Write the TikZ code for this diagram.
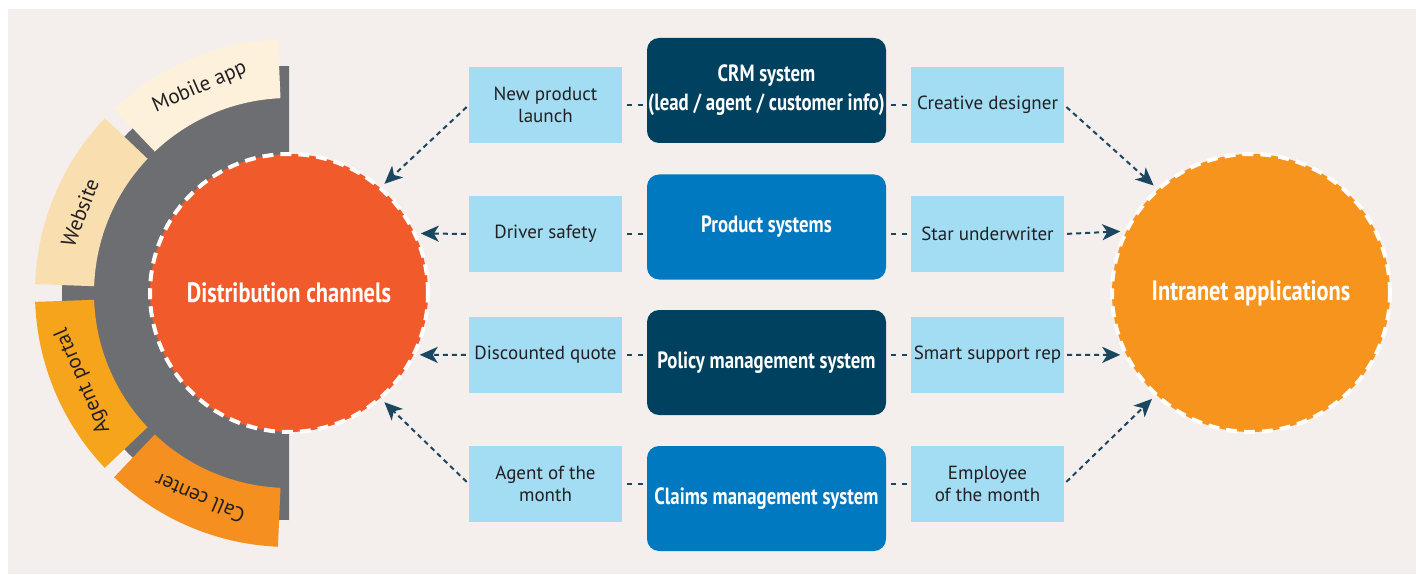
\documentclass[tikz,border=0pt]{standalone}
\usepackage{fontspec}
\setmainfont{PT Sans}
\newfontfamily\condfont{PT Sans}[FakeStretch=0.8]
\usepackage{tikz}
\usetikzlibrary{positioning, arrows.meta}
\usepackage{xcolor}

\definecolor{paper}{HTML}{F4EFEC}
\definecolor{slate}{HTML}{6D6E71}
\definecolor{cream}{HTML}{FEF1DC}
\definecolor{tan}{HTML}{F9DFB0}
\definecolor{saffron}{HTML}{F7A41D}
\definecolor{tangerine}{HTML}{F58F20}
\definecolor{vermilion}{HTML}{F15A2B}
\definecolor{amber}{HTML}{F7941D}
\definecolor{navybox}{HTML}{00415F}
\definecolor{bluebox}{HTML}{0079C1}
\definecolor{paleblue}{HTML}{A3DDF3}
\definecolor{linknavy}{HTML}{1A4660}
\definecolor{ink}{HTML}{231F20}

% annular sector of the channel ring: colour, start angle, end angle
\newcommand{\bandseg}[3]{%
  \fill[#1] ([shift={(#2:254pt)}]hubc) arc[start angle=#2, end angle=#3, radius=254pt]
    -- ([shift={(#3:195pt)}]hubc) arc[start angle=#3, end angle=#2, radius=195pt] -- cycle;}

\begin{document}
\begin{tikzpicture}[
  x=1pt, y=1pt,
  chan/.style={rectangle, fill=paleblue, minimum width=153pt, minimum height=76pt, inner sep=0pt, align=center, text=ink, font=\fontsize{19}{22}\selectfont},
  sys/.style={rectangle, rounded corners=12pt, minimum width=239pt, minimum height=105pt, inner sep=0pt, align=center, text=white, font=\condfont\bfseries\fontsize{23.5}{29}\selectfont},
  hub/.style={circle, minimum size=278pt, inner sep=0pt, draw=white, line width=4pt, dash pattern=on 11pt off 7pt, text=white, font=\condfont\bfseries\fontsize{28}{32}\selectfont},
  seglab/.style={text=ink, font=\fontsize{21}{24}\selectfont},
  tie/.style={draw=linknavy, line width=2pt, dash pattern=on 5pt off 6pt, dash phase=6pt},
  feed/.style={draw=linknavy, line width=2pt, dash pattern=on 5pt off 4pt, -{Stealth[length=18pt, width=16pt, inset=5pt]}, shorten <=3pt, shorten >=4pt}
]
\useasboundingbox (0,0) rectangle (1416,574);
\fill[white] (0,0) rectangle (1416,574);
\fill[paper] (8,0) rectangle (1416,565);

% channel ring
\coordinate (hubc) at (289,281);
\fill[slate] ([shift={(0,227)}]hubc) arc[start angle=90, end angle=270, radius=227pt] -- cycle;
\bandseg{cream}{92.5}{133.5}
\bandseg{tan}{136.5}{178}
\bandseg{saffron}{182}{223.5}
\bandseg{tangerine}{226.5}{267.5}
\node[seglab, rotate=23.5] at ([shift={(113.5:224pt)}]hubc) {Mobile app};
\node[seglab, rotate=69] at ([shift={(159:224pt)}]hubc) {Website};
\node[seglab, rotate=113] at ([shift={(203:224pt)}]hubc) {Agent portal};
\node[seglab, rotate=156.5] at ([shift={(246.5:224pt)}]hubc) {Call center};

\node[hub, fill=vermilion] (dist) at (hubc) {Distribution channels};
\node[hub, fill=amber] (intr) at (1251,281) {Intranet applications};

% systems
\node[sys, fill=navybox] (crm) at (766.5,483.5) {CRM system\\(lead / agent / customer info)};
\node[sys, fill=bluebox] (prod) at (766.5,347) {Product systems};
\node[sys, fill=navybox] (pol) at (766.5,211.5) {Policy management system};
\node[sys, fill=bluebox] (clm) at (766.5,75.5) {Claims management system};

% use cases
\node[chan] (npl) at (545.5,469) {New product\\launch};
\node[chan] (drv) at (545.5,340) {Driver safety};
\node[chan] (dsq) at (545.5,219) {Discounted quote};
\node[chan] (aom) at (545.5,90) {Agent of the\\month};
\node[chan] (crd) at (987.5,469) {Creative designer};
\node[chan] (stu) at (987.5,340) {Star underwriter};
\node[chan] (ssr) at (987.5,219) {Smart support rep};
\node[chan] (eom) at (987.5,90) {Employee\\of the month};

\draw[tie] (npl.east) -- (npl.east -| crm.west);
\draw[tie] (drv.east) -- (drv.east -| prod.west);
\draw[tie] (dsq.east) -- (dsq.east -| pol.west);
\draw[tie] (aom.east) -- (aom.east -| clm.west);
\draw[tie] (crm.east |- crd.west) -- (crd.west);
\draw[tie] (prod.east |- stu.west) -- (stu.west);
\draw[tie] (pol.east |- ssr.west) -- (ssr.west);
\draw[tie] (clm.east |- eom.west) -- (eom.west);

\draw[feed] (npl.west) -- (dist.49.5);
\draw[feed] (drv.west) -- (dist.25.1);
\draw[feed] (dsq.west) -- (dist.-26.5);
\draw[feed] (aom.west) -- (dist.-49.4);
\draw[feed] (crd.east) -- (intr.132.3);
\draw[feed] (stu.east) -- (intr.154.9);
\draw[feed] (ssr.east) -- (intr.206.5);
\draw[feed] (eom.east) -- (intr.227.7);
\end{tikzpicture}
\end{document}
